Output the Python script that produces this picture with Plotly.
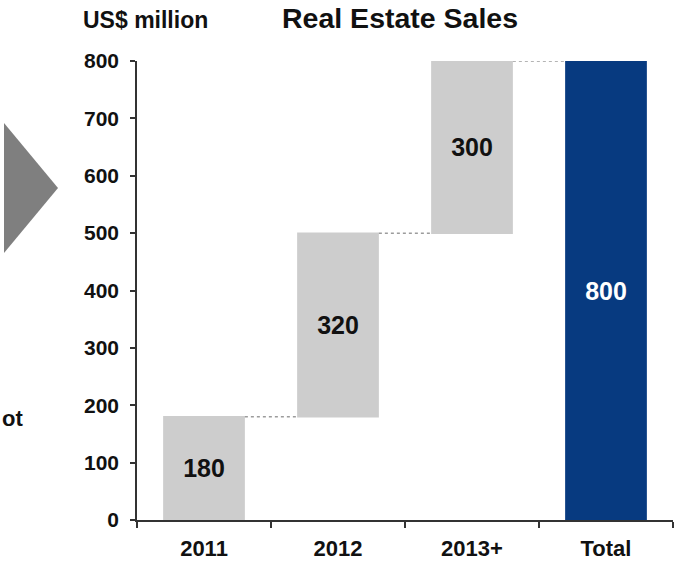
import plotly.graph_objects as go

# Real estate sales by period (US$ million)
categories = ["2011", "2012", "2013+"]
sales = [180, 320, 300]
total_label = "Total"

x_labels = categories + [total_label]
measures = ["relative"] * len(sales) + ["total"]
y_values = sales + [0]
total_value = sum(sales)
bar_text = [str(v) for v in sales] + [str(total_value)]
text_colors = ["#111111"] * len(sales) + ["#ffffff"]

FONT = "Liberation Sans, Arial, sans-serif"

# plot area in pixels
L, R, T, B = 137, 2, 61, 44
W, H = 675, 564
PW, PH = W - L - R, H - T - B


def px_x(px):
    return (px - L) / PW


def px_y(py):
    return (H - B - py) / PH


fig = go.Figure(
    go.Waterfall(
        x=x_labels,
        y=y_values,
        measure=measures,
        text=bar_text,
        textposition="inside",
        insidetextanchor="middle",
        constraintext="none",
        textfont=dict(family=FONT, size=25, weight="bold", color=text_colors),
        increasing=dict(marker=dict(color="#cdcdcd", line=dict(width=0))),
        totals=dict(marker=dict(color="#073a80", line=dict(width=0))),
        connector=dict(mode="between", line=dict(color="#9c9c9c", width=1.5, dash="dot")),
        hoverinfo="skip",
    )
)

fig.update_layout(
    width=W,
    height=H,
    margin=dict(l=L, r=R, t=T, b=B),
    paper_bgcolor="white",
    plot_bgcolor="white",
    showlegend=False,
    waterfallgap=0.39,
    font=dict(family=FONT, color="#111111"),
    xaxis=dict(
        type="category",
        showline=True,
        linecolor="#333333",
        linewidth=1.5,
        ticks="outside",
        tickson="boundaries",
        ticklen=6,
        tickcolor="#333333",
        tickwidth=1.5,
        showgrid=False,
        tickfont=dict(family=FONT, size=22, weight="bold", color="#111111"),
        ticklabelstandoff=8,
    ),
    yaxis=dict(
        range=[0, 800],
        tickvals=list(range(0, 801, 100)),
        showline=True,
        linecolor="#333333",
        linewidth=1.5,
        ticks="outside",
        ticklen=5,
        tickcolor="#333333",
        tickwidth=1.5,
        showgrid=False,
        zeroline=False,
        tickfont=dict(family=FONT, size=21, weight="bold", color="#111111"),
        ticklabelstandoff=7,
    ),
    shapes=[
        dict(
            type="path",
            xref="paper",
            yref="paper",
            path=(
                f"M {px_x(4)} {px_y(123)} L {px_x(58)} {px_y(188)} "
                f"L {px_x(4)} {px_y(253)} Z"
            ),
            fillcolor="#7f7f7f",
            line=dict(width=0),
            layer="above",
        )
    ],
    annotations=[
        dict(
            text="Real Estate Sales",
            xref="paper",
            yref="paper",
            x=px_x(400),
            y=px_y(18),
            xanchor="center",
            yanchor="middle",
            showarrow=False,
            font=dict(family=FONT, size=28.5, weight="bold", color="#111111"),
        ),
        dict(
            text="US$ million",
            xref="paper",
            yref="paper",
            x=px_x(81),
            y=px_y(20),
            xanchor="left",
            yanchor="middle",
            showarrow=False,
            font=dict(family=FONT, size=23, weight="bold", color="#111111"),
        ),
        dict(
            text="ot",
            xref="paper",
            yref="paper",
            x=px_x(0),
            y=px_y(418),
            xanchor="left",
            yanchor="middle",
            showarrow=False,
            font=dict(family=FONT, size=22, weight="bold", color="#111111"),
        ),
    ],
)

fig.write_html("out.html")
